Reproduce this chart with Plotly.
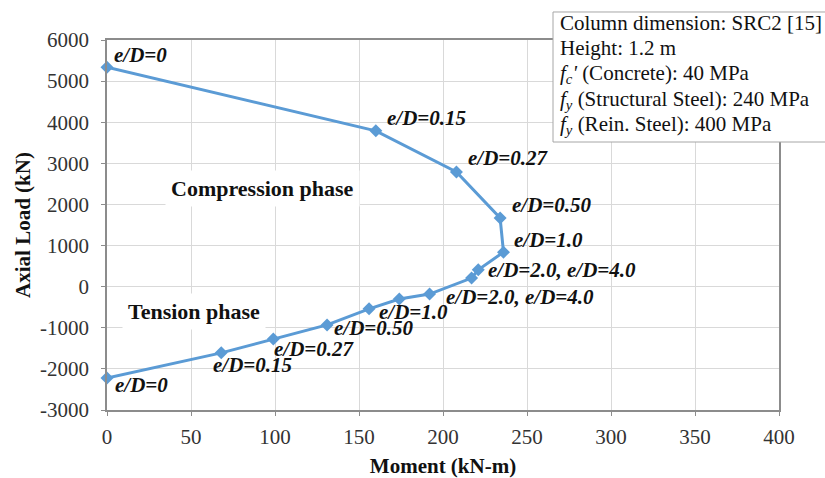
import plotly.graph_objects as go

# Interaction diagram of column SRC2: moment vs axial load, compression -> tension
moment = [0, 160, 208, 234, 236, 221, 217, 192, 174, 156, 131, 99, 68, 0]
axial = [5340, 3790, 2790, 1670, 840, 410, 210, -180, -300, -540, -930, -1270, -1610, -2220]

# Eccentricity labels: (point index, text, x offset px, y offset px)
ecc_labels = [
    (0, "e/D=0", 5, 12),
    (1, "e/D=0.15", 9, 13),
    (2, "e/D=0.27", 10, 14),
    (3, "e/D=0.50", 10, 13),
    (4, "e/D=1.0", 9, 12),
    (5, "e/D=2.0, e/D=4.0", 8, 0),
    (7, "e/D=2.0, e/D=4.0", 14, -3),
    (9, "e/D=1.0", 8, -3),
    (10, "e/D=0.50", 5, -3),
    (11, "e/D=0.27", -1, -10),
    (12, "e/D=0.15", -10, -12),
    (13, "e/D=0", 6, -7),
]

info_lines = [
    "Column dimension: SRC2 [15]",
    "Height: 1.2 m",
    "<i>f</i><sub><i>c</i></sub><i>'</i> (Concrete): 40 MPa",
    "<i>f</i><sub><i>y</i></sub> (Structural Steel): 240 MPa",
    "<i>f</i><sub><i>y</i></sub> (Rein. Steel): 400 MPa",
]
info_y = [1.046, 0.978, 0.908, 0.838, 0.770]

x_ticks = list(range(0, 401, 50))
y_ticks = list(range(-3000, 6001, 1000))

SERIF = "Liberation Serif"
BLUE = "#5b9bd5"
BOX_GREY = "#a6a6a6"

fig = go.Figure()
fig.add_trace(go.Scatter(
    x=moment, y=axial, mode="lines+markers",
    line=dict(color=BLUE, width=3),
    marker=dict(symbol="diamond", size=10, color=BLUE),
    cliponaxis=False, showlegend=False,
))

annotations = []
for idx, txt, dx, dy in ecc_labels:
    annotations.append(dict(
        x=moment[idx], y=axial[idx], xref="x", yref="y",
        text=f"<b><i>{txt}</i></b>", showarrow=False,
        xanchor="left", yanchor="middle", xshift=dx, yshift=dy,
        font=dict(family=SERIF, size=21, color="#111111"),
    ))

annotations.append(dict(
    x=0.2321, y=0.5973, xref="paper", yref="paper",
    text="<b>Compression phase</b>", showarrow=False,
    xanchor="center", yanchor="middle", bgcolor="white", borderpad=5,
    font=dict(family=SERIF, size=22, color="#111111"),
))
annotations.append(dict(
    x=0.1302, y=0.2649, xref="paper", yref="paper",
    text="<b>Tension phase</b>", showarrow=False,
    xanchor="center", yanchor="middle", bgcolor="white", borderpad=5,
    font=dict(family=SERIF, size=22, color="#111111"),
))
for line, yy in zip(info_lines, info_y):
    annotations.append(dict(
        x=0.671, y=yy, xref="paper", yref="paper",
        text=line, showarrow=False, xanchor="left", yanchor="middle",
        font=dict(family=SERIF, size=21, color="#111111"),
    ))

# Info box: white panel running off the right edge, outlined on three sides
bx0, bx1, by0, by1 = 0.6637, 1.2, 0.7243, 1.0757
box_shapes = [
    dict(type="rect", xref="paper", yref="paper", x0=bx0, x1=bx1, y0=by0, y1=by1,
         line=dict(width=0), fillcolor="white", layer="above"),
    dict(type="line", xref="paper", yref="paper", x0=bx0, x1=bx0, y0=by0, y1=by1,
         line=dict(color=BOX_GREY, width=1), layer="above"),
    dict(type="line", xref="paper", yref="paper", x0=bx0, x1=bx1, y0=by1, y1=by1,
         line=dict(color=BOX_GREY, width=1), layer="above"),
    dict(type="line", xref="paper", yref="paper", x0=bx0, x1=bx1, y0=by0, y1=by0,
         line=dict(color=BOX_GREY, width=1), layer="above"),
]

fig.update_layout(
    width=825, height=478,
    margin=dict(l=107, r=46, t=40, b=68),
    paper_bgcolor="white", plot_bgcolor="white",
    font=dict(family=SERIF, size=21, color="#333333"),
    annotations=annotations,
    shapes=box_shapes,
    xaxis=dict(
        range=[0, 400], tickvals=x_ticks, ticktext=[str(v) for v in x_ticks],
        showgrid=True, gridcolor="#d9d9d9", gridwidth=1, zeroline=False,
        showline=True, linecolor="#8c8c8c", linewidth=1.5, mirror=True,
        ticks="outside", ticklen=4, tickcolor="#8c8c8c", ticklabelstandoff=3,
        tickfont=dict(family=SERIF, size=21, color="#333333"),
        title=dict(text="<b>Moment (kN-m)</b>", standoff=12,
                   font=dict(family=SERIF, size=21, color="#111111")),
        automargin=False,
    ),
    yaxis=dict(
        range=[-3000, 6000], tickvals=y_ticks, ticktext=[str(v) for v in y_ticks],
        showgrid=True, gridcolor="#d9d9d9", gridwidth=1, zeroline=False,
        showline=True, linecolor="#8c8c8c", linewidth=1.5, mirror=True,
        ticks="outside", ticklen=4, tickcolor="#8c8c8c", ticklabelstandoff=8,
        tickfont=dict(family=SERIF, size=21, color="#333333"),
        title=dict(text="<b>Axial Load (kN)</b>", standoff=4,
                   font=dict(family=SERIF, size=21, color="#111111")),
        automargin=False,
    ),
)

fig.write_html("out.html")
